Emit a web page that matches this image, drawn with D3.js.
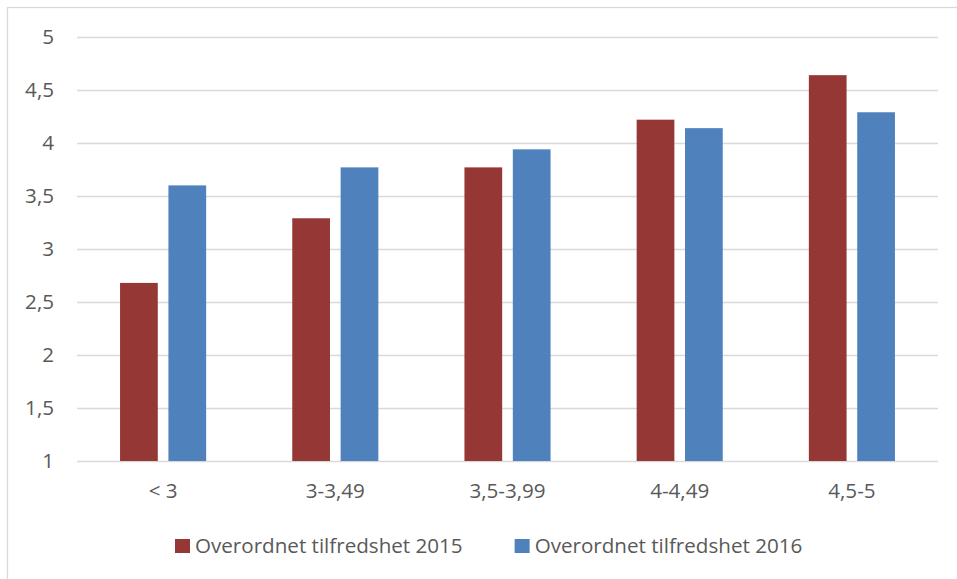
<!DOCTYPE html>
<html>
<head>
<meta charset="utf-8">
<script src="https://cdn.jsdelivr.net/npm/d3@7"></script>
<style>
  html, body { margin: 0; padding: 0; background: #fff; }
  svg { display: block; }
  text { font-family: "Open Sans", Lato, sans-serif; fill: #595959; }
</style>
</head>
<body>
<svg id="chart" width="957" height="579"></svg>
<script>
const categories = ["< 3", "3-3,49", "3,5-3,99", "4-4,49", "4,5-5"];
const seriesNames = ["Overordnet tilfredshet 2015", "Overordnet tilfredshet 2016"];
const values2015 = [2.68, 3.29, 3.77, 4.22, 4.64];
const values2016 = [3.60, 3.77, 3.94, 4.14, 4.29];
const yTicks = [1, 1.5, 2, 2.5, 3, 3.5, 4, 4.5, 5];
const colors = ["#953735", "#4f81bd"];

const series = [values2015, values2016];
const svg = d3.select("#chart");
const W = 957, H = 579;
const FS = 20.6;
const margin = { left: 77, right: 19, top: 37, bottom: 118 };
const plotW = W - margin.left - margin.right;
const plotH = H - margin.top - margin.bottom;

// outer chart border
svg.append("rect").attr("x", 7.5).attr("y", 7.5).attr("width", 960).attr("height", 580)
  .attr("fill", "none").attr("stroke", "#d9d9d9").attr("stroke-width", 1.3);

const g = svg.append("g").attr("transform", `translate(${margin.left},${margin.top})`);

const x0 = d3.scaleBand().domain(categories).range([0, plotW]).paddingInner(0.5).paddingOuter(0.25);
const x1 = d3.scaleBand().domain(d3.range(series.length)).range([0, x0.bandwidth()]).paddingInner(0.22);
const y = d3.scaleLinear().domain([1, 5]).range([plotH, 0]);

const locale = d3.formatLocale({ decimal: ",", thousands: " ", grouping: [3], currency: ["", " kr"] });
const fmt = locale.format("~g");

// gridlines + y labels
const yAxis = d3.axisLeft(y).tickValues(yTicks).tickSize(-plotW).tickPadding(23).tickFormat(fmt);
const ya = g.append("g").call(yAxis);
ya.select(".domain").remove();
ya.selectAll(".tick line").attr("stroke", "#d9d9d9").attr("stroke-width", 1.3);
ya.selectAll(".tick text").attr("font-size", FS).style("fill", "#595959")
  .attr("font-family", "'Open Sans', Lato, sans-serif");

// bars
const groups = g.selectAll(".cat").data(categories).join("g")
  .attr("class", "cat").attr("transform", d => `translate(${x0(d)},0)`);
groups.selectAll("rect").data((d, i) => series.map((s, k) => ({ k, v: s[i] }))).join("rect")
  .attr("x", d => x1(d.k)).attr("width", x1.bandwidth())
  .attr("y", d => y(d.v)).attr("height", d => y(1) - y(d.v))
  .attr("fill", d => colors[d.k]);

// x axis labels
const xAxis = d3.axisBottom(x0).tickSize(0).tickPadding(22);
const xa = g.append("g").attr("transform", `translate(0,${plotH})`).call(xAxis);
xa.select(".domain").remove();
xa.selectAll(".tick text").attr("font-size", FS).style("fill", "#595959")
  .attr("font-family", "'Open Sans', Lato, sans-serif");

// legend
const legend = svg.append("g").attr("transform", "translate(175,546)");
let lx = 0;
seriesNames.forEach((name, k) => {
  const item = legend.append("g").attr("transform", `translate(${lx},0)`);
  item.append("rect").attr("x", 0).attr("y", -7).attr("width", 15).attr("height", 14).attr("fill", colors[k]);
  const t = item.append("text").attr("x", 20).attr("y", 0).attr("dy", "0.35em")
    .attr("font-size", FS).text(name);
  lx += 20 + t.node().getComputedTextLength() + 52;
});
</script>
</body>
</html>
